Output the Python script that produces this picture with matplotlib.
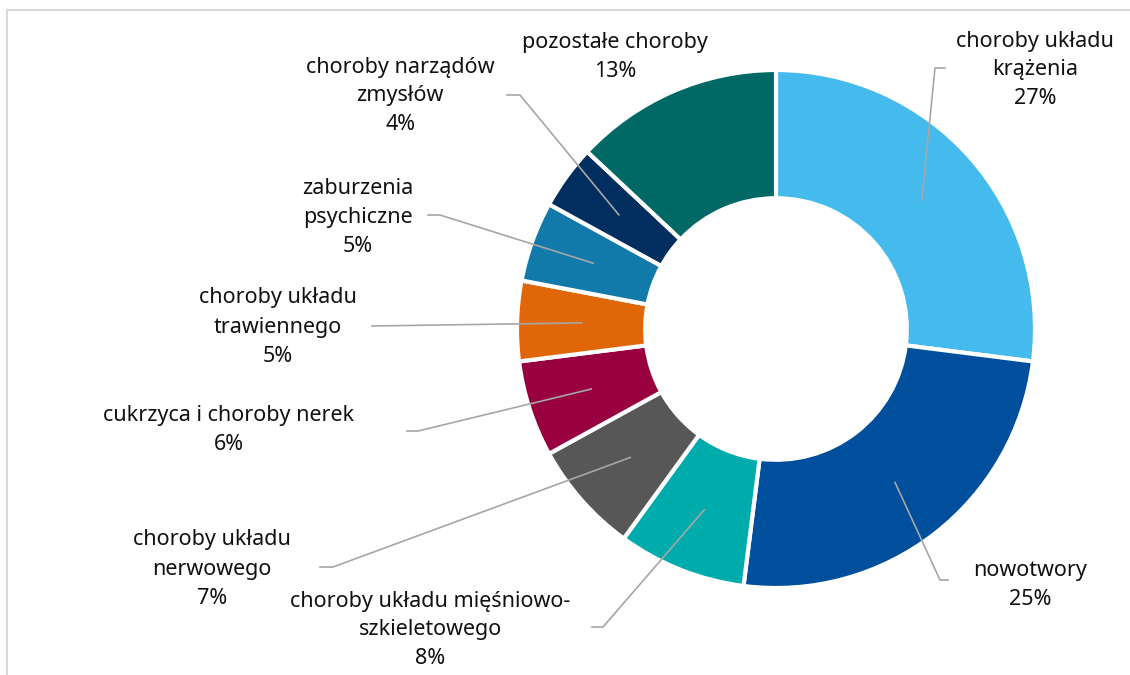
import numpy as np
from matplotlib import pyplot as plt
from matplotlib.lines import Line2D

# Dane - udział przyczyn (%)
kategorie = ['choroby układu\nkrążenia', 'nowotwory', 'choroby układu mięśniowo-\nszkieletowego',
             'choroby układu\nnerwowego', 'cukrzyca i choroby nerek', 'choroby układu\ntrawiennego',
             'zaburzenia\npsychiczne', 'choroby narządów\nzmysłów', 'pozostałe choroby']
wartosci = [27, 25, 8, 7, 6, 5, 5, 4, 13]
kolory = ['#45BBED', '#004F9C', '#00ABAB', '#575757', '#990040', '#E06608', '#1279AB', '#002F5F', '#006966']

W, H = 1130, 675
cx, cy, R = 776, 329, 259   # środek i promień w pikselach

# pozycje etykiet (px) i łamanie linii (px, None = bez linii)
etyk_xy = [(1035, 70), (1030, 585), (430, 630), (212, 569), (229, 430), (278, 327),
           (358, 217), (400, 96), (615, 57)]
lamanie = [(935, 68, 945), (940, 580, 948), (603, 627, 592), (333, 567, 320), (418, 431, 407),
           (None, 326, 372), (440, 215, 428), (520, 95, 507), None]

plt.rcParams['font.family'] = ['Noto Sans', 'DejaVu Sans']
fig = plt.figure(figsize=(W / 100, H / 100), dpi=100)
ax = fig.add_axes([0, 0, 1, 1])

def py(y):
    return H - y

wedges, _ = ax.pie(wartosci, colors=kolory, startangle=90, counterclock=False,
                   center=(cx, py(cy)), radius=R,
                   wedgeprops=dict(width=R * 0.495, edgecolor='white', linewidth=3))
ax.set_xlim(0, W)
ax.set_ylim(0, H)
ax.set_aspect('equal')
ax.axis('off')

for w, lab, v, (tx, ty), lm in zip(wedges, kategorie, wartosci, etyk_xy, lamanie):
    ax.text(tx, py(ty), f'{lab}\n{v}%', ha='center', va='center', fontsize=15.5,
            linespacing=1.5, color='#111111')
    if lm is None:
        continue
    kat = np.deg2rad((w.theta1 + w.theta2) / 2)
    x0 = cx + 0.75 * R * np.cos(kat)
    y0 = py(cy) + 0.75 * R * np.sin(kat)
    ex, ey, kx = lm
    if ex is None:
        ax.plot([x0, kx], [y0, py(ey)], color='#A6A6A6', lw=1.2)
    else:
        ax.plot([x0, ex, kx], [y0, py(ey), py(ey)], color='#A6A6A6', lw=1.2)

# ramka wykresu
fig.add_artist(Line2D([7 / W, 7 / W], [0, 1 - 10 / H], color='#D9D9D9', lw=1.5))
fig.add_artist(Line2D([7 / W, 1], [1 - 10 / H, 1 - 10 / H], color='#D9D9D9', lw=1.5))

plt.savefig('out.png', dpi=100)
